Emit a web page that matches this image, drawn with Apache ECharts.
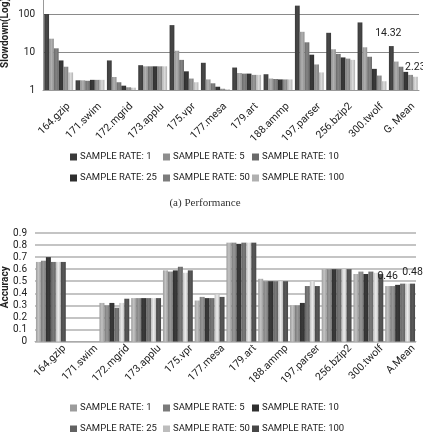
<!DOCTYPE html>
<html>
<head>
<meta charset="utf-8">
<script src="https://cdn.jsdelivr.net/npm/echarts@6/dist/echarts.min.js"></script>
<style>
  html, body { margin: 0; padding: 0; background: #fff; }
  #chart { width: 423px; height: 432px; }
</style>
</head>
<body>
<div id="chart"></div>
<script>
// benchmarks
const perfCategories = ["164.gzip", "171.swim", "172.mgrid", "173.applu", "175.vpr", "177.mesa", "179.art", "188.ammp", "197.parser", "256.bzip2", "300.twolf", "G. Mean"];
const accCategories = ["164.gzip", "171.swim", "172.mgrid", "173.applu", "175.vpr", "177.mesa", "179.art", "188.ammp", "197.parser", "256.bzip2", "300.twolf", "A.Mean"];
const rateNames = ["SAMPLE RATE: 1", "SAMPLE RATE: 5", "SAMPLE RATE: 10", "SAMPLE RATE: 25", "SAMPLE RATE: 50", "SAMPLE RATE: 100"];
const slowdownTicks = [1, 10, 100];

// slowdown (log scale), one array per sample rate
const slowRate1 = [100, 1.8, 6.0, 4.5, 51, 5.2, 3.9, 2.6, 166, 32, 60, 14.32];
const slowRate5 = [22.4, 1.8, 2.2, 4.2, 10.8, 1.9, 2.8, 2.0, 34, 11.8, 13.3, 5.6];
const slowRate10 = [12.5, 1.75, 1.6, 4.2, 6.2, 1.5, 2.7, 1.95, 18, 8.9, 7.5, 4.1];
const slowRate25 = [6.0, 1.85, 1.3, 4.2, 3.1, 1.22, 2.7, 1.9, 8.5, 7.2, 3.6, 3.0];
const slowRate50 = [4.1, 1.85, 1.18, 4.2, 2.0, 1.08, 2.5, 1.9, 4.7, 6.7, 2.4, 2.5];
const slowRate100 = [2.9, 1.85, 1.15, 4.2, 1.6, 1.05, 2.5, 1.9, 2.9, 6.2, 1.7, 2.23];

// accuracy, one array per sample rate
const accRate1 = [0.66, 0, 0.32, 0.36, 0.59, 0.34, 0.82, 0.52, 0.30, 0.60, 0.56, 0.46];
const accRate5 = [0.67, 0, 0.30, 0.36, 0.58, 0.37, 0.82, 0.50, 0.30, 0.60, 0.58, 0.46];
const accRate10 = [0.70, 0, 0.32, 0.36, 0.59, 0.36, 0.81, 0.50, 0.32, 0.60, 0.56, 0.47];
const accRate25 = [0.66, 0, 0.28, 0.36, 0.62, 0.36, 0.82, 0.50, 0.46, 0.60, 0.58, 0.48];
const accRate50 = [0.66, 0, 0.32, 0.36, 0.57, 0.39, 0.82, 0.50, 0.50, 0.60, 0.57, 0.48];
const accRate100 = [0.66, 0, 0.355, 0.36, 0.59, 0.37, 0.82, 0.50, 0.46, 0.60, 0.56, 0.48];

const slowData = [slowRate1, slowRate5, slowRate10, slowRate25, slowRate50, slowRate100];
const accData = [accRate1, accRate5, accRate10, accRate25, accRate50, accRate100];

// bar shades (excel-ish grey ramp)
const slowColors = ["#3a3a3a", "#8e8e8e", "#6a6a6a", "#2e2e2e", "#7c7c7c", "#b0b0b0"];
const accColors = ["#9c9c9c", "#7a7a7a", "#2f2f2f", "#626262", "#bdbdbd", "#474747"];

const FONT = "Roboto, 'Liberation Sans', sans-serif";

function shade(c) {
  // lighter in the middle of each bar
  return new echarts.graphic.LinearGradient(0, 0, 1, 0, [
    { offset: 0, color: c },
    { offset: 0.5, color: echarts.color.lift(c, -0.25) },
    { offset: 1, color: c }
  ]);
}

// label only the mean bars that carry a number
function withLabel(values, showIdx, offset) {
  return values.map((v, i) => (i === showIdx ? {
    value: v,
    label: { show: true, position: "top", distance: 4, offset: offset, color: "#222", fontSize: 10.5, fontFamily: FONT, formatter: "{c}" }
  } : v));
}

const series = [];
slowData.forEach((vals, k) => {
  let d = vals;
  if (k === 0) d = withLabel(vals, 11, [-3, -3]);
  if (k === 5) d = withLabel(vals, 11, [0, 0]);
  series.push({
    name: rateNames[k], type: "bar", xAxisIndex: 0, yAxisIndex: 0,
    data: d, barGap: "0%", barCategoryGap: "8%",
    itemStyle: { color: shade(slowColors[k]) }
  });
});
accData.forEach((vals, k) => {
  let d = vals;
  if (k === 0) d = withLabel(vals, 11, [0, 0]);
  if (k === 5) d = withLabel(vals, 11, [0, -2]);
  series.push({
    name: rateNames[k], type: "bar", xAxisIndex: 1, yAxisIndex: 1,
    data: d, barGap: "0%", barCategoryGap: "6%",
    itemStyle: { color: shade(accColors[k]) }
  });
});

// one legend per item so the entries line up in 3 columns x 2 rows
function legendGrid(top, colors) {
  const lefts = [70, 163, 252];
  return rateNames.map((name, i) => ({
    left: lefts[i % 3], top: top + Math.floor(i / 3) * 21,
    itemWidth: 7, itemHeight: 7, icon: "rect", padding: 0,
    selectedMode: false,
    textStyle: { fontSize: 9.5, color: "#222", fontFamily: FONT, padding: [0, 0, 0, -2] },
    data: [{ name: name, itemStyle: { color: colors[i] } }]
  }));
}

// rotated tick labels, nudged right of the category centre like the original
const labelTop = {
  rotate: 45, interval: 0, fontSize: 10.5, color: "#222", fontFamily: FONT,
  margin: 12, verticalAlign: "top", lineHeight: 18, padding: [0, -5, 0, 0]
};
const labelBottom = {
  rotate: 45, interval: 0, fontSize: 10.5, color: "#222", fontFamily: FONT,
  margin: 6, verticalAlign: "top", lineHeight: 18, padding: [0, -10, 0, 0]
};

const yName = { fontWeight: "bold", fontSize: 10, color: "#222", fontFamily: FONT };

const chart = echarts.init(document.getElementById("chart"));
chart.setOption({
  backgroundColor: "#fff",
  animation: false,
  grid: [
    { left: 43, width: 376, top: -24, height: 114, outerBoundsMode: "none", containLabel: false },
    { left: 35, width: 381, top: 233, height: 108.5, outerBoundsMode: "none", containLabel: false }
  ],
  legend: [].concat(legendGrid(152, slowColors), legendGrid(403, accColors)),
  graphic: [{
    type: "text", x: 205, y: 203,
    style: {
      text: "(a) Performance", fontSize: 11, fill: "#333", align: "center", verticalAlign: "middle",
      fontFamily: "'Liberation Serif', 'DejaVu Serif', serif"
    }
  }],
  xAxis: [
    {
      type: "category", gridIndex: 0, data: perfCategories,
      axisTick: { show: false },
      axisLine: { lineStyle: { color: "#999" } },
      axisLabel: labelTop
    },
    {
      type: "category", gridIndex: 1, data: accCategories,
      axisTick: { show: false },
      axisLine: { lineStyle: { color: "#aaa" } },
      axisLabel: labelBottom
    }
  ],
  yAxis: [
    {
      type: "log", logBase: 10, gridIndex: 0, min: 1, max: 1000,
      name: "Slowdown(Log)", nameLocation: "middle", nameGap: 33, nameMoveOverlap: false,
      nameTextStyle: yName,
      axisLine: { show: true, lineStyle: { color: "#999" } },
      axisTick: { show: false },
      axisLabel: {
        fontSize: 10, color: "#222", fontFamily: FONT,
        formatter: v => (slowdownTicks.indexOf(v) >= 0 ? String(v) : "")
      },
      splitLine: { lineStyle: { color: "#8a8a8a", width: 1 } }
    },
    {
      type: "value", gridIndex: 1, min: 0, max: 0.9, interval: 0.1,
      name: "Accuracy", nameLocation: "middle", nameGap: 25, nameMoveOverlap: false,
      nameTextStyle: yName,
      axisLine: { show: false },
      axisTick: { show: false },
      axisLabel: { fontSize: 10, color: "#222", fontFamily: FONT, formatter: v => String(+v.toFixed(1)) },
      splitLine: { lineStyle: { color: "#b0b0b0", width: 1.5 } }
    }
  ],
  series: series
});
</script>
</body>
</html>
